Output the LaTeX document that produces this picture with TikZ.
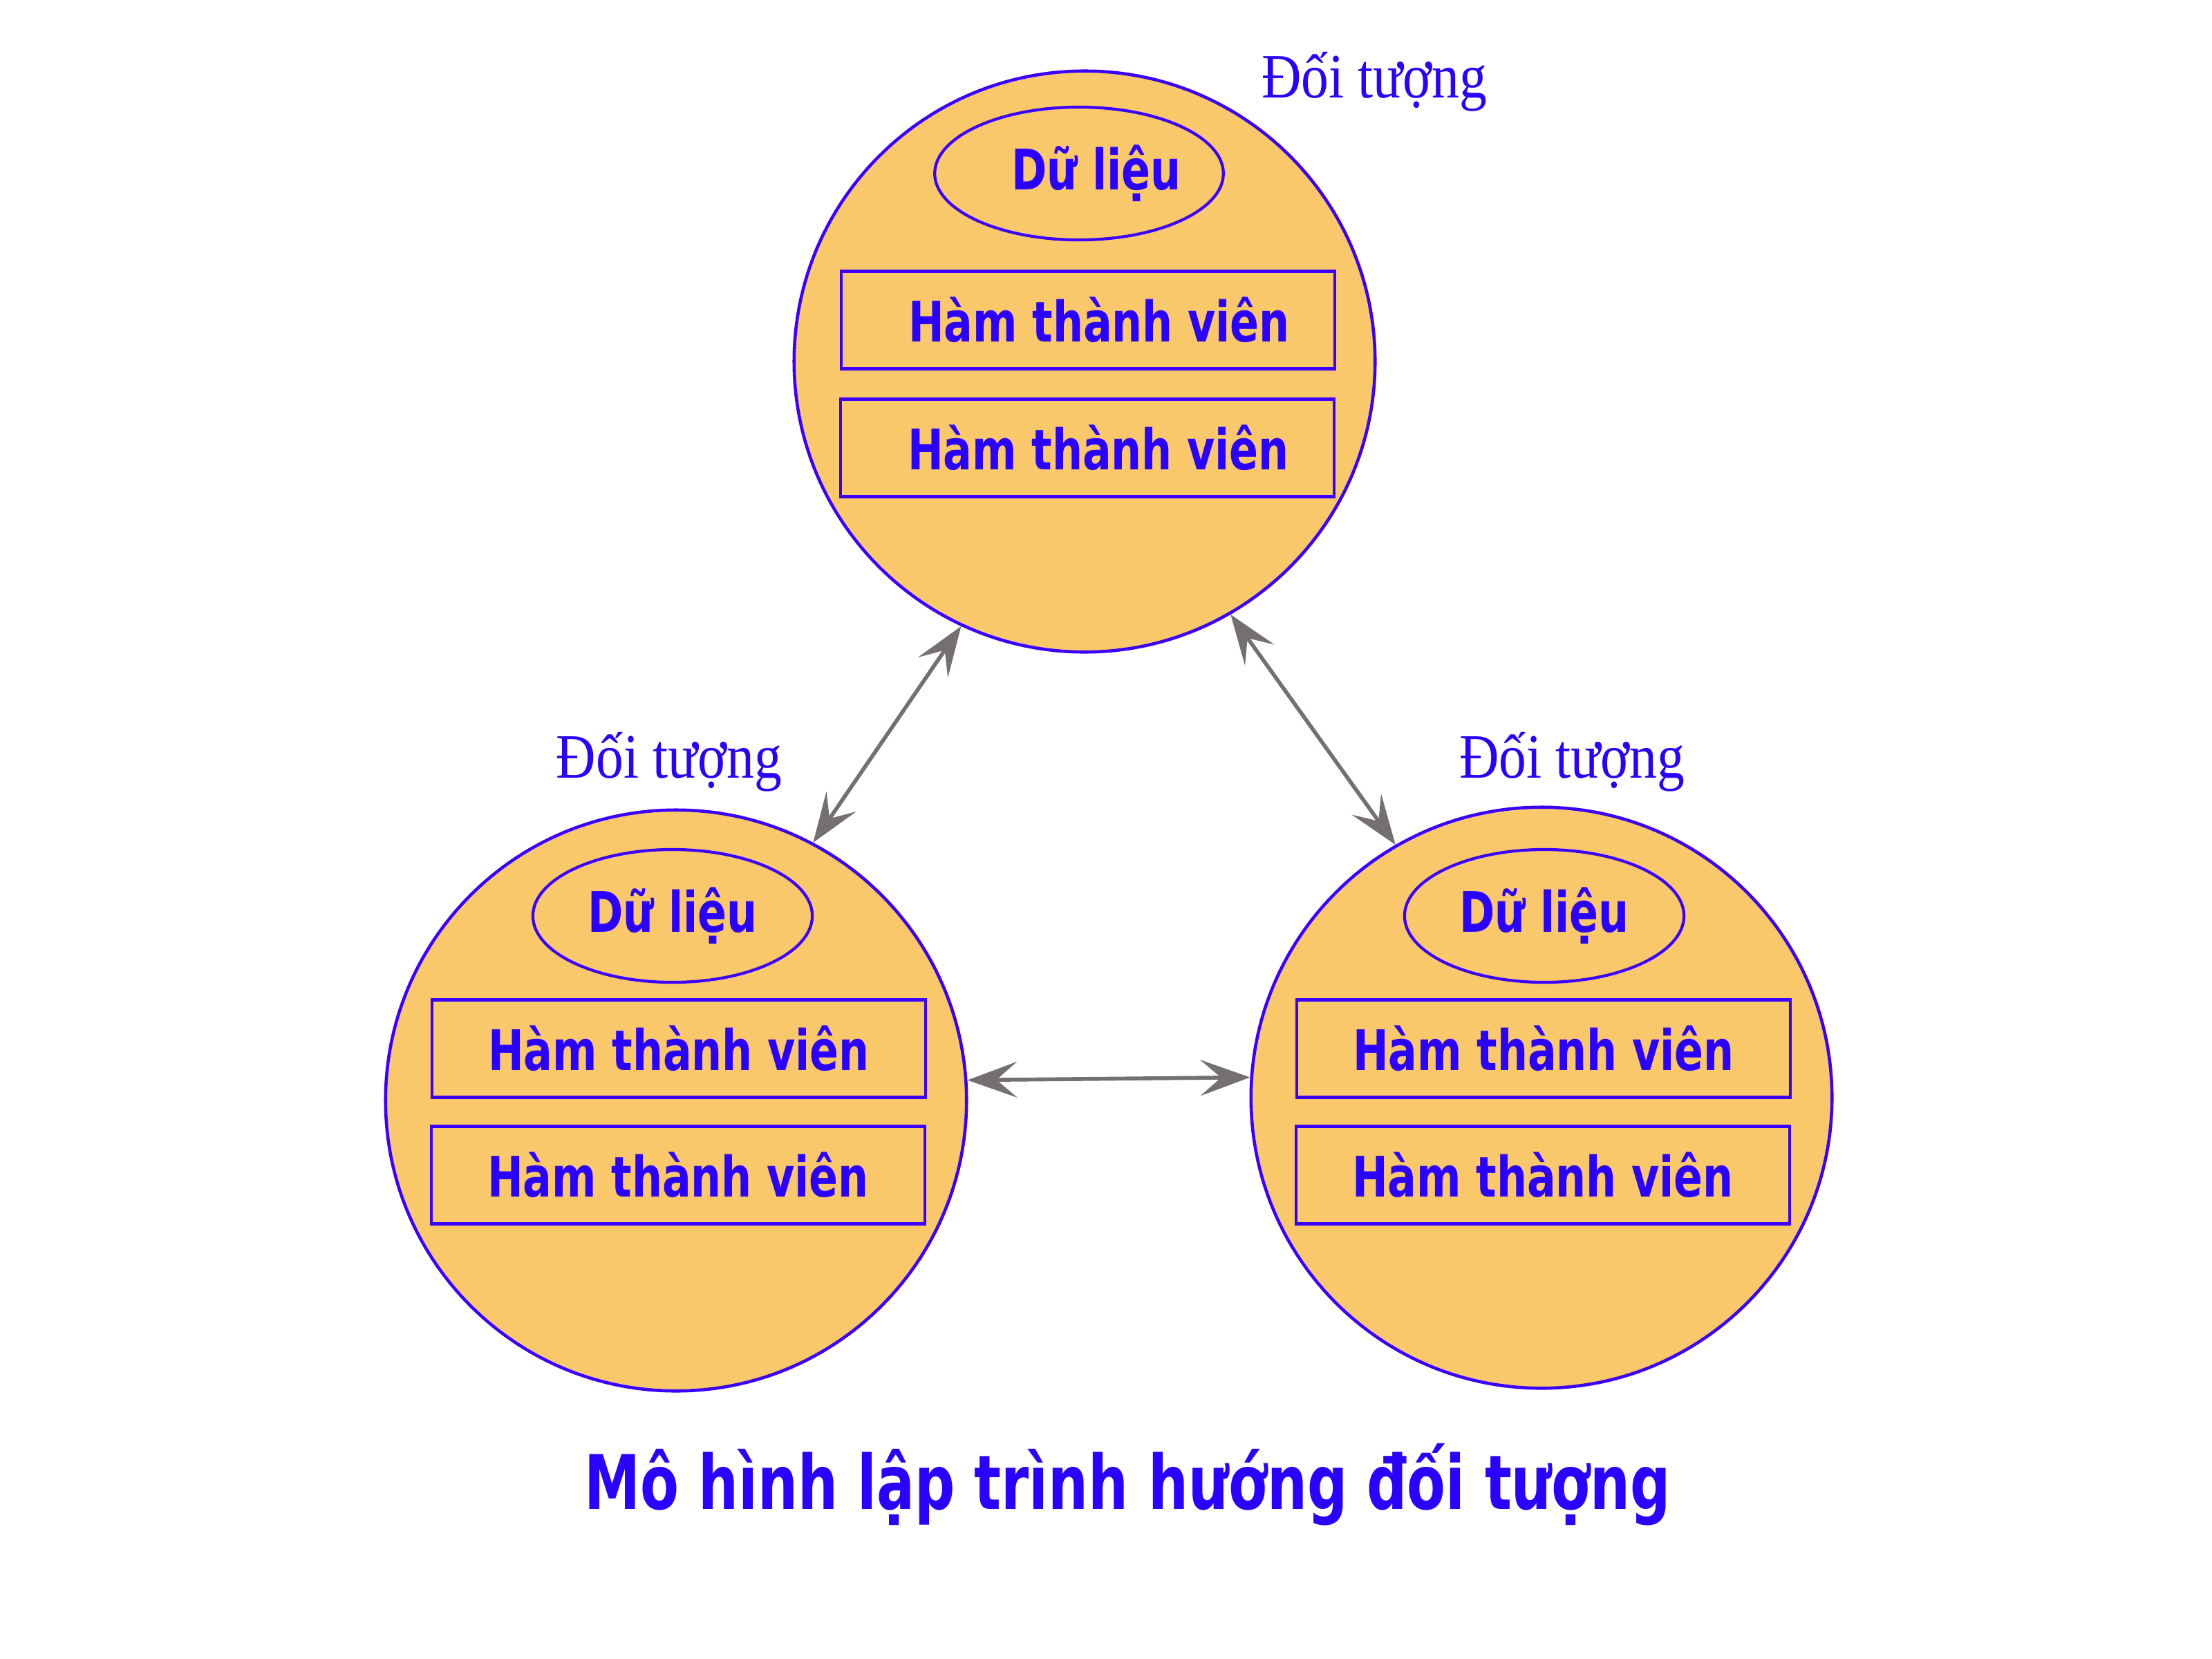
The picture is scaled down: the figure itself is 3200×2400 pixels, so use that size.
\documentclass[tikz,border=0pt]{standalone}
\usepackage{fontspec}
\setmainfont{DejaVu Sans}
\newfontfamily\boxfont{DejaVu Sans Condensed Bold}[FakeStretch=0.85]
\newfontfamily\titlefont{DejaVu Sans Condensed Bold}[FakeStretch=0.83]
\newfontfamily\objfont{Liberation Serif}[FakeStretch=0.87]
\usetikzlibrary{arrows.meta,shapes.geometric}
\definecolor{fillc}{HTML}{F8C86A}
\definecolor{edgec}{HTML}{3A00FF}
\definecolor{textc}{HTML}{2A00FF}
\definecolor{arrc}{HTML}{757070}
\tikzset{
  obj/.style={circle,draw=edgec,fill=fillc,line width=1.3pt,minimum size=8.4cm,inner sep=0pt},
  data/.style={ellipse,draw=edgec,line width=1.2pt,minimum width=4.04cm,minimum height=1.92cm,inner sep=0pt,
     font=\boxfont\fontsize{23}{26}\selectfont,text=textc},
  func/.style={rectangle,draw=edgec,line width=1.2pt,minimum width=7.14cm,minimum height=1.41cm,inner sep=0pt,
     font=\boxfont\fontsize{23}{26}\selectfont,text=textc},
  lbl/.style={font=\objfont\fontsize{26}{30}\selectfont,text=textc,inner sep=0pt},
  tip/.style={Stealth[length=0.72cm,width=0.52cm,inset=0.3cm]},
  link/.style={draw=arrc,line width=1.6pt,{Stealth[length=0.72cm,width=0.52cm,inset=0.3cm]}-{Stealth[length=0.72cm,width=0.52cm,inset=0.3cm]}}
}
\begin{document}
\begin{tikzpicture}[x=0.01cm,y=-0.01cm]
\useasboundingbox (0,0) rectangle (3200,2400);
% objects
\node[obj] (t) at (1569,523) {};
\node[obj] (l) at (978,1592) {};
\node[obj] (r) at (2230,1588) {};
% top
\node[data] (td) at (1561,251) {\hspace*{0.5cm}Dữ liệu};
\node[func] (tf1) at (1574,463) {\hspace*{0.32cm}Hàm thành viên};
\node[func] (tf2) at (1573,648) {\hspace*{0.32cm}Hàm thành viên};
\node[lbl] (tl) at (1988,118) {Đối tượng};
% left
\node[data] (ld) at (973,1325) {Dữ liệu};
\node[func] (lf1) at (982,1517) {Hàm thành viên};
\node[func] (lf2) at (981,1700) {Hàm thành viên};
\node[lbl] (ll) at (968,1102) {Đối tượng};
% right
\node[data] (rd) at (2234,1325) {Dữ liệu};
\node[func] (rf1) at (2233,1517) {Hàm thành viên};
\node[func] (rf2) at (2232,1700) {Hàm thành viên};
\node[lbl] (rl) at (2274,1102) {Đối tượng};
% links
\draw[link] (t.245.7) -- (l.62);
\draw[link] (t.300.5) -- (r.120);
\draw[link] (l.4) -- (r.176);
% title
\node[font=\titlefont\fontsize{31}{36}\selectfont,text=textc] (title) at (1631,2148) {Mô hình lập trình hướng đối tượng};
\end{tikzpicture}
\end{document}
